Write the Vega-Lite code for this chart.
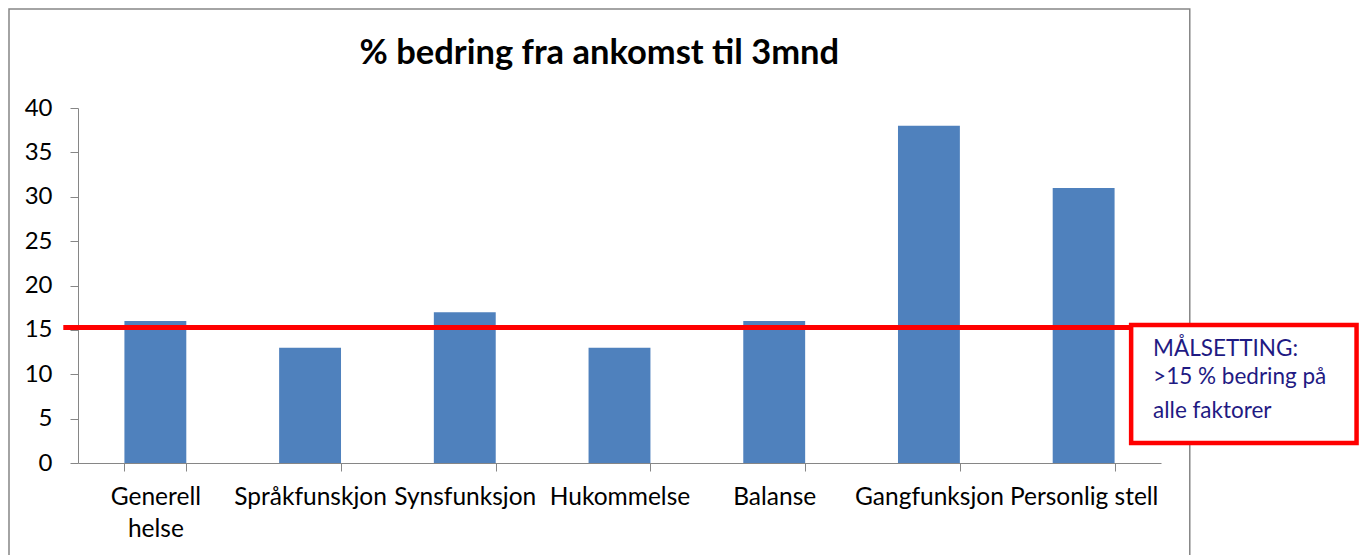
{
  "$schema": "https://vega.github.io/schema/vega-lite/v6.json",
  "width": 1083,
  "height": 355,
  "autosize": {"type": "none"},
  "padding": {"left": 78, "top": 108, "right": 201, "bottom": 92},
  "background": "white",
  "config": {"view": {"stroke": null}, "font": "Lato"},
  "datasets": {
    "bars": [
      {"kategori": "Generell helse", "verdi": 16},
      {"kategori": "Språkfunskjon", "verdi": 13},
      {"kategori": "Synsfunksjon", "verdi": 17},
      {"kategori": "Hukommelse", "verdi": 13},
      {"kategori": "Balanse", "verdi": 16},
      {"kategori": "Gangfunksjon", "verdi": 38},
      {"kategori": "Personlig stell", "verdi": 31}
    ],
    "frame": [{"x0": -0.446, "x1": 7.186, "y0": 51.15, "y1": -12}],
    "target": [{"x0": -0.095, "x1": 6.807, "mal": 15.27}],
    "box": [{"x0": 6.807, "x1": 8.264, "y0": 15.55, "y1": 2.25}],
    "boxtext": [
      {"x": 6.949, "y": 12.06, "t": "MÅLSETTING:"},
      {"x": 6.949, "y": 8.9, "t": ">15 % bedring på"},
      {"x": 6.949, "y": 5.1, "t": "alle faktorer"}
    ],
    "title": [{"x": 3.37, "y": 46.1, "t": "% bedring fra ankomst til 3mnd"}]
  },
  "layer": [
    {
      "data": {"name": "frame"},
      "mark": {"type": "rect", "fill": null, "stroke": "#868686", "strokeWidth": 1.5},
      "encoding": {
        "x": {"field": "x0", "type": "quantitative", "scale": {"domain": [0, 7], "nice": false, "zero": false}, "axis": null},
        "x2": {"field": "x1"},
        "y": {"field": "y0", "type": "quantitative", "scale": {"domain": [0, 40], "nice": false}, "axis": null},
        "y2": {"field": "y1"}
      }
    },
    {
      "data": {"name": "bars"},
      "mark": {"type": "bar", "color": "#4F81BD"},
      "encoding": {
        "x": {
          "field": "kategori", "type": "nominal", "sort": null,
          "scale": {"paddingInner": 0.6, "paddingOuter": 0.3},
          "axis": {
            "title": null, "labelAngle": 0, "tickBand": "extent",
            "domainColor": "#868686", "tickColor": "#868686", "tickSize": 8,
            "labelFontSize": 24.5, "labelColor": "black", "labelPadding": 14,
            "labelOverlap": false, "labelLimit": 0, "labelLineHeight": 32,
            "labelExpr": "datum.label == 'Generell helse' ? ['Generell', 'helse'] : datum.label"
          }
        },
        "y": {
          "field": "verdi", "type": "quantitative",
          "scale": {"domain": [0, 40], "nice": false},
          "axis": {
            "title": null, "values": [0, 5, 10, 15, 20, 25, 30, 35, 40],
            "gridColor": "#868686", "domainColor": "#868686", "tickColor": "#868686",
            "tickSize": 8, "labelFontSize": 24, "labelPadding": 18, "labelColor": "black"
          }
        }
      }
    },
    {
      "data": {"name": "target"},
      "mark": {"type": "rule", "color": "#FF0000", "strokeWidth": 5},
      "encoding": {
        "x": {"field": "x0", "type": "quantitative", "scale": {"domain": [0, 7], "nice": false, "zero": false}, "axis": null},
        "x2": {"field": "x1"},
        "y": {"field": "mal", "type": "quantitative", "scale": {"domain": [0, 40], "nice": false}, "axis": null}
      }
    },
    {
      "data": {"name": "box"},
      "mark": {"type": "rect", "fill": "white", "stroke": "#FF0000", "strokeWidth": 4.5},
      "encoding": {
        "x": {"field": "x0", "type": "quantitative", "scale": {"domain": [0, 7], "nice": false, "zero": false}, "axis": null},
        "x2": {"field": "x1"},
        "y": {"field": "y0", "type": "quantitative", "scale": {"domain": [0, 40], "nice": false}, "axis": null},
        "y2": {"field": "y1"}
      }
    },
    {
      "data": {"name": "boxtext"},
      "mark": {"type": "text", "align": "left", "baseline": "alphabetic", "fontSize": 22.5, "color": "#1F1A83", "font": "Lato"},
      "encoding": {
        "x": {"field": "x", "type": "quantitative", "scale": {"domain": [0, 7], "nice": false, "zero": false}, "axis": null},
        "y": {"field": "y", "type": "quantitative", "scale": {"domain": [0, 40], "nice": false}, "axis": null},
        "text": {"field": "t"}
      }
    },
    {
      "data": {"name": "title"},
      "mark": {"type": "text", "align": "center", "baseline": "middle", "fontSize": 34.5, "fontWeight": "bold", "color": "black"},
      "encoding": {
        "x": {"field": "x", "type": "quantitative", "scale": {"domain": [0, 7], "nice": false, "zero": false}, "axis": null},
        "y": {"field": "y", "type": "quantitative", "scale": {"domain": [0, 40], "nice": false}, "axis": null},
        "text": {"field": "t"}
      }
    }
  ],
  "resolve": {"scale": {"x": "independent", "y": "independent"}}
}
